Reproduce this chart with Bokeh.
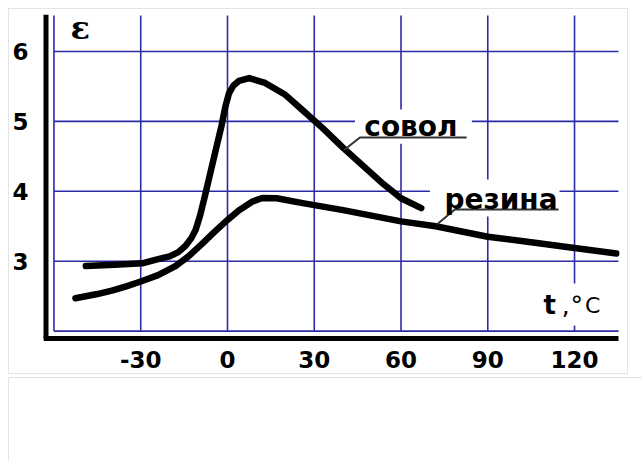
from bokeh.plotting import figure
from bokeh.models import Range1d, FixedTicker, Div
from bokeh.layouts import column
from bokeh.core.properties import value
from bokeh.embed import file_html
from bokeh.resources import INLINE

# ---- data ----
sovol_t = [-49, -39, -29.5, -25, -20, -17, -14.5, -12.5, -11, -9.5, -8, -6, -4,
           -2, -0.8, 0.5, 2, 4, 7.5, 13, 20, 26, 33, 40, 47, 54, 60, 67]
sovol_e = [2.93, 2.95, 2.97, 3.02, 3.07, 3.13, 3.22, 3.33, 3.45, 3.65, 3.9, 4.25, 4.6,
           4.95, 5.2, 5.4, 5.51, 5.58, 5.62, 5.55, 5.38, 5.16, 4.9, 4.62, 4.36, 4.1, 3.9, 3.76]

rezina_t = [-52.6, -45, -40, -35, -30, -24, -18, -13.5, -9, -4.5, 0, 4, 8.5, 12,
            17, 26, 40, 60, 72, 90, 105, 120, 134.5]
rezina_e = [2.47, 2.53, 2.58, 2.64, 2.71, 2.80, 2.93, 3.07, 3.24, 3.42, 3.59, 3.73, 3.85,
            3.905, 3.9, 3.83, 3.73, 3.57, 3.5, 3.35, 3.27, 3.19, 3.11]

x_ticks = [-60, -30, 0, 30, 60, 90, 120]
x_labels = ["", "-30", "0", "30", "60", "90", "120"]
y_ticks = [2, 3, 4, 5, 6]
y_labels = ["", "3", "4", "5", "6"]

# ---- layout constants ----
GRID_TOP = 6.515
GRID_RIGHT = 135.2
AXIS_X = -62.76
AXIS_Y = 1.894
BLUE = "#2b2ba6"

p = figure(width=620, height=366,
           x_range=Range1d(-63.97, 135.55), y_range=Range1d(1.837, 6.529),
           output_backend="svg", toolbar_location=None,
           min_border_left=32, min_border_right=10,
           min_border_top=5, min_border_bottom=33)
p.outline_line_color = None
p.grid.visible = False
p.background_fill_color = "white"
p.styles = {"border": "1px solid #e4e4e4"}

for ax in (p.xaxis[0], p.yaxis[0]):
    ax.axis_line_color = None
    ax.major_tick_line_color = None
    ax.minor_tick_line_color = None
    ax.major_label_text_font = "DejaVu Sans"
    ax.major_label_text_font_style = "bold"
    ax.major_label_text_font_size = "23px"
    ax.major_label_text_color = "black"

p.xaxis.ticker = FixedTicker(ticks=x_ticks)
p.xaxis.major_label_overrides = {t: l for t, l in zip(x_ticks, x_labels)}
p.xaxis.major_label_standoff = 2
p.yaxis.ticker = FixedTicker(ticks=y_ticks)
p.yaxis.major_label_overrides = {t: l for t, l in zip(y_ticks, y_labels)}
p.yaxis.major_label_standoff = 8

# grid lines
p.segment(x0=x_ticks, y0=[min(y_ticks)] * len(x_ticks), x1=x_ticks,
          y1=[GRID_TOP] * len(x_ticks), line_color=BLUE, line_width=1.6)
p.segment(x0=[min(x_ticks)] * len(y_ticks), y0=y_ticks,
          x1=[GRID_RIGHT] * len(y_ticks), y1=y_ticks, line_color=BLUE, line_width=1.6)

# black axes
p.segment(x0=[AXIS_X], y0=[AXIS_Y], x1=[AXIS_X], y1=[6.53], line_color="black", line_width=5)
p.segment(x0=[AXIS_X - 0.8], y0=[AXIS_Y], x1=[GRID_RIGHT], y1=[AXIS_Y], line_color="black", line_width=5)

# white patches behind labels
p.quad(left=[44.1, 70.0, 106.9], right=[84.5, 114.8, 133.5],
       bottom=[4.68, 3.64, 2.08], top=[5.17, 4.17, 2.68],
       fill_color="white", line_color=None)

# curves
p.line(sovol_t, sovol_e, line_color="black", line_width=6.5,
       line_cap="round", line_join="round")
p.line(rezina_t, rezina_e, line_color="black", line_width=6.5,
       line_cap="round", line_join="round")

# leader lines + underlines
p.line([40.3, 45.8, 82.7], [4.59, 4.77, 4.77], line_color="#333333", line_width=2)
p.line([72.4, 78.6, 114.5], [3.525, 3.74, 3.74], line_color="#333333", line_width=2)

# labels
p.text(x=[47.3, 75.0], y=[4.93, 3.88], text=["совол", "резина"],
       text_font=value("DejaVu Sans"), text_font_style="bold",
       text_font_size="28px", text_baseline="alphabetic", text_align="left",
       text_color="black")
p.text(x=[-54.3], y=[6.33], text=["ε"], text_font=value("DejaVu Serif"),
       text_font_style="bold", text_font_size="32px", text_baseline="alphabetic",
       text_align="left", text_color="black")
p.text(x=[109.3], y=[2.37], text=["t"], text_font=value("DejaVu Sans"),
       text_font_style="bold", text_font_size="26px", text_baseline="alphabetic",
       text_align="left", text_color="black")
p.text(x=[115.6, 118.6], y=[2.37, 2.37], text=[",", "°"], text_font=value("DejaVu Sans"),
       text_font_size="25px", text_baseline="alphabetic",
       text_align="left", text_color="black")
p.text(x=[123.6], y=[2.37], text=["C"], text_font=value("DejaVu Sans"),
       text_font_size="22px", text_baseline="alphabetic",
       text_align="left", text_color="black")

d = Div(text="", width=634, height=84,
        styles={"border-top": "1px solid #e4e4e4", "border-left": "1px solid #e4e4e4"},
        margin=(3, 0, 0, 0))

layout = column(p, d, margin=(8, 0, 0, 8))
open("out.html", "w").write(file_html(layout, INLINE))
